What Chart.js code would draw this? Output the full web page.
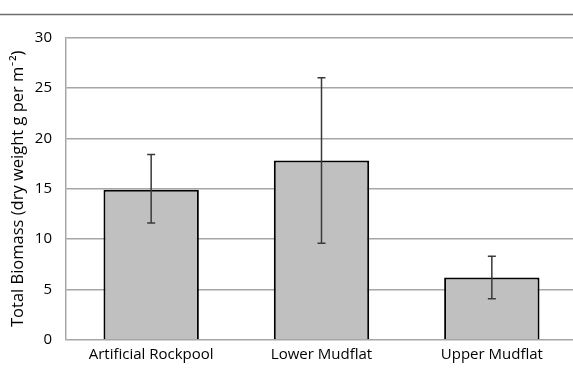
<!DOCTYPE html>
<html>
<head>
<meta charset="utf-8">
<script src="https://cdn.jsdelivr.net/npm/chart.js@4.4.0/dist/chart.umd.min.js"></script>
<style>
html,body{margin:0;padding:0;background:#fff;overflow:hidden;}
#wrap{width:573px;height:370px;overflow:hidden;position:relative;}
#box{width:577px;height:370px;position:absolute;left:0;top:0;}
</style>
</head>
<body>
<div id="wrap"><div id="box"><canvas id="c"></canvas></div></div>
<script>
const categories = ["Artificial Rockpool", "Lower Mudflat", "Upper Mudflat"];
const biomass = [14.9, 17.8, 6.2];
const errorHigh = [18.4, 26.0, 8.3];
const errorLow = [11.6, 9.6, 4.1];
const yTicks = [0, 5, 10, 15, 20, 25, 30];

const FONT = "'Open Sans', Lato, sans-serif";

const errorBars = {
  id: 'errorBars',
  afterDatasetsDraw(chart) {
    const ctx = chart.ctx;
    const meta = chart.getDatasetMeta(0);
    const y = chart.scales.y;
    ctx.save();
    ctx.strokeStyle = '#3a3a3a';
    ctx.lineWidth = 1.5;
    meta.data.forEach((bar, i) => {
      const x = bar.x;
      const yh = y.getPixelForValue(errorHigh[i]);
      const yl = y.getPixelForValue(errorLow[i]);
      ctx.beginPath();
      ctx.moveTo(x, yh); ctx.lineTo(x, yl);
      ctx.moveTo(x - 4, yh); ctx.lineTo(x + 4, yh);
      ctx.moveTo(x - 4, yl); ctx.lineTo(x + 4, yl);
      ctx.stroke();
    });
    ctx.restore();
  }
};

const topRule = {
  id: 'topRule',
  beforeDraw(chart) {
    const ctx = chart.ctx;
    ctx.save();
    ctx.strokeStyle = '#6e6e6e';
    ctx.lineWidth = 1.5;
    ctx.beginPath();
    ctx.moveTo(0, 14.5); ctx.lineTo(chart.width, 14.5);
    ctx.stroke();
    ctx.restore();
  }
};

new Chart(document.getElementById('c'), {
  type: 'bar',
  data: {
    labels: categories,
    datasets: [{
      data: biomass,
      backgroundColor: '#c0c0c0',
      borderColor: '#000000',
      borderWidth: 2,
      categoryPercentage: 1.0,
      barPercentage: 0.56
    }]
  },
  options: {
    responsive: true,
    maintainAspectRatio: false,
    animation: false,
    devicePixelRatio: 1,
    layout: { padding: { top: 37.5, right: 0, bottom: 0, left: 0 } },
    plugins: { legend: { display: false }, tooltip: { enabled: false } },
    scales: {
      x: {
        grid: { display: false, drawTicks: false },
        border: { display: false },
        ticks: { color: '#000', font: { family: FONT, size: 15 }, padding: 6 },
        afterFit(s) { s.height = 30; }
      },
      y: {
        min: 0, max: 30,
        afterBuildTicks(s) { s.ticks = yTicks.map(v => ({ value: v })); },
        grid: { color: '#a6a6a6', lineWidth: 1.5, drawTicks: false },
        border: { display: true, color: '#a6a6a6', width: 1.5 },
        ticks: { color: '#000', font: { family: FONT, size: 15 }, padding: 14 },
        title: {
          display: true,
          text: 'Total Biomass (dry weight g per m\u207B\u00B2)',
          color: '#000',
          font: { family: FONT, size: 16.5 },
          padding: { top: 8, bottom: 0 }
        },
        afterFit(s) { s.width = 66; }
      }
    }
  },
  plugins: [topRule, errorBars]
});
</script>
</body>
</html>
